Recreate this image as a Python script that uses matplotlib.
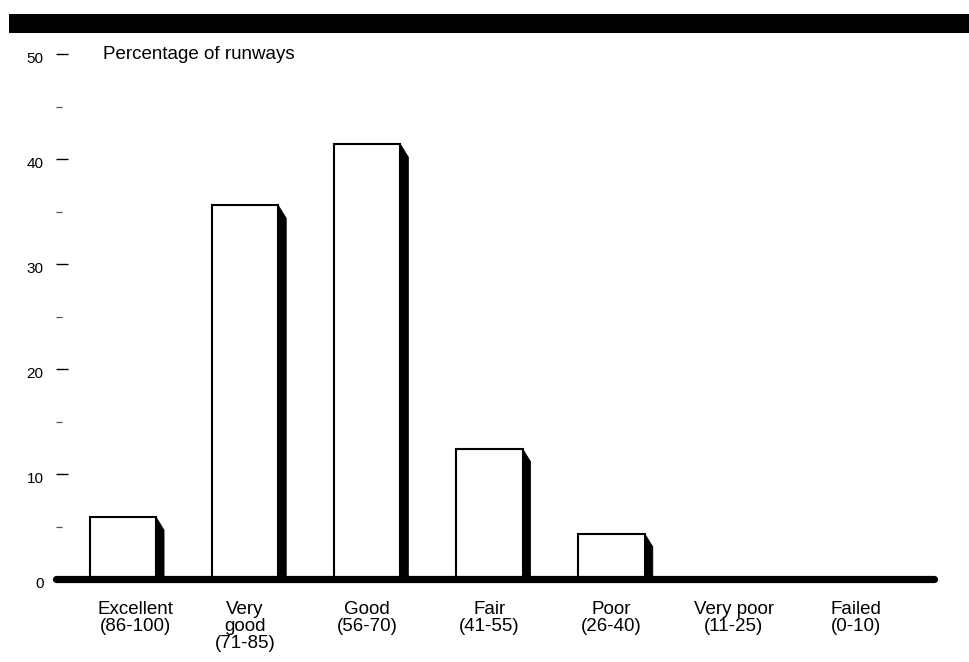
import matplotlib
matplotlib.use("Agg")
import matplotlib.pyplot as plt
from matplotlib.patches import Rectangle, Polygon
from matplotlib.ticker import MultipleLocator
import matplotlib.transforms as mtransforms

# Runway condition ratings and share of runways in each band
categories = ["Excellent\n(86-100)", "Very\ngood\n(71-85)", "Good\n(56-70)",
              "Fair\n(41-55)", "Poor\n(26-40)", "Very poor\n(11-25)", "Failed\n(0-10)"]
percentages = [5.9, 35.6, 41.4, 12.4, 4.3, 0.0, 0.0]
y_ticks = [0, 10, 20, 30, 40, 50]
y_label = "Percentage of runways"

plt.rcParams["font.family"] = ["Liberation Sans", "DejaVu Sans"]

W, H, DPI = 969, 662, 100
fig = plt.figure(figsize=(W / DPI, H / DPI), dpi=DPI)

# axes placed in pixel units
ax_l, ax_r, ax_b, ax_t = 55.5, 933.5, 662 - 579, 662 - 54
ax = fig.add_axes([ax_l / W, ax_b / H, (ax_r - ax_l) / W, (ax_t - ax_b) / H])

x_lo, x_hi = -0.551, 6.634
ax.set_xlim(x_lo, x_hi)
ax.set_ylim(0, 50)

bar_w = 0.544
# shadow size in pixels converted to data units
px_x = (x_hi - x_lo) / (ax_r - ax_l)
px_y = 50.0 / (ax_t - ax_b)
sh_dx, sh_dy = 8 * px_x, 13 * px_y

for i, v in enumerate(percentages):
    if v <= 0:
        continue
    left = i - bar_w / 2
    right = i + bar_w / 2
    shadow = Polygon([(right, v), (right + sh_dx, v - sh_dy), (right + sh_dx, 0), (right, 0)],
                     closed=True, facecolor="black", edgecolor="black", linewidth=0.5, zorder=2)
    ax.add_patch(shadow)
    ax.add_patch(Rectangle((left, 0), bar_w, v, facecolor="white", edgecolor="black",
                           linewidth=1.5, zorder=3))

# thick baseline with rounded ends
blend = mtransforms.blended_transform_factory(ax.transAxes, ax.transData)
ax.plot([0, 1], [0, 0], transform=blend, color="black", linewidth=5.2,
        solid_capstyle="round", clip_on=False, zorder=5)

for s in ax.spines.values():
    s.set_visible(False)

ax.set_yticks(y_ticks)
ax.set_yticklabels([str(t) for t in y_ticks])
ax.yaxis.set_minor_locator(MultipleLocator(5))
ax.tick_params(axis="y", which="major", direction="in", length=8.6, width=1.0,
               pad=8.6, labelsize=11, colors="black")
ax.tick_params(axis="y", which="minor", direction="in", length=4.3, width=0.9,
               color="#555555")
for lab in ax.get_yticklabels():
    lab.set_transform(lab.get_transform() + mtransforms.ScaledTranslation(0, -2.5 / 72, fig.dpi_scale_trans))

ax.set_xticks(range(len(categories)))
ax.set_xticklabels(categories, fontsize=13.5, linespacing=1.0, va="top")
ax.tick_params(axis="x", length=0, pad=16)
first = ax.get_xticklabels()[0]
first.set_transform(first.get_transform() + mtransforms.ScaledTranslation(9 / 72, 0, fig.dpi_scale_trans))

# header band
fig.patches.append(Rectangle((9 / W, 1 - 33 / H), 1 - 9 / W, 19 / H, transform=fig.transFigure,
                             facecolor="black", edgecolor="none", zorder=0))

fig.text(103 / W, 1 - 59.3 / H, y_label, fontsize=13.5, ha="left", va="baseline")

fig.savefig("out.png", dpi=DPI)
